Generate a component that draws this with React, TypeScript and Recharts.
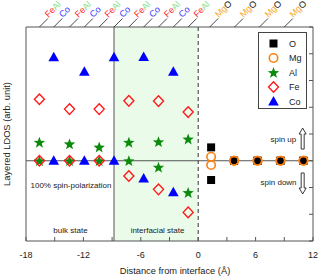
import React from 'react';
import {
  ScatterChart,
  Scatter,
  XAxis,
  YAxis,
  ReferenceLine,
  ReferenceArea,
  ReferenceDot,
  Legend,
} from 'recharts';

// ---- data ----
const feAlX = [-16.6, -13.45, -10.35, -7.25, -4.15, -1.05];
const coX = [-15.1, -11.9, -8.8, -5.7, -2.6];
const mgoX = [1.35, 3.75, 6.2, 8.6, 11.0];

const oUp = [0.5, 0, 0, 0, 0];
const oDown = [-0.72, 0, 0, 0, 0];
const mgUp = [0.15, 0, 0, 0, 0];
const mgDown = [-0.16, 0, 0, 0, 0];
const alUp = [0.69, 0.63, 0.51, 0.69, 0.71, 0.81];
const alDown = [0, 0, 0, 0, -0.24, -1.19];
const feUp = [2.3, 1.93, 1.93, 2.24, 2.23, 1.82];
const feDown = [0, 0, 0, -0.57, -1.07, -1.93];
const coUp = [3.87, 3.33, 3.87, 3.88, 3.33];
const coDown = [0, 0, 0, -0.66, -1.18];

const xTicks = [-18, -15, -12, -9, -6, -3, 0, 3, 6, 9, 12];
const xTickLabels = [-18, -12, -6, 0, 6, 12];
const yTicks = [-3, -2, -1, 0, 1, 2, 3, 4, 5];

const layerTickX = [-16.6, -15.1, -13.45, -11.9, -10.35, -8.8, -7.25, -5.7, -4.15, -2.6, -1.05, 1.2, 3.8, 6.4, 9.0];
const layerTickLabels = ['FeAl', 'Co', 'FeAl', 'Co', 'FeAl', 'Co', 'FeAl', 'Co', 'FeAl', 'Co', 'FeAl', 'MgO', 'MgO', 'MgO', 'MgO'];

const interfaceStart = -8.8;

const annotations = [
  { text: '100% spin-polarization', x: -13.3, y: -0.94 },
  { text: 'bulk state', x: -13.35, y: -2.59 },
  { text: 'interfacial state', x: -4.25, y: -2.59 },
  { text: 'spin up', x: 8.9, y: 0.8 },
  { text: 'spin down', x: 8.4, y: -0.83 },
];
const arrows = [
  { dir: 'up', x: 10.92, y: 0.83 },
  { dir: 'down', x: 10.92, y: -0.85 },
];

// ---- style ----
const FONT = '"Liberation Sans", Arial, Helvetica, sans-serif';
const AXIS = '#555';
const C_O = '#000000';
const C_MG = '#ff7f0e';
const C_AL = '#0b8a0b';
const C_FE = '#ff1a1a';
const C_CO = '#0000ff';

const L_FE = '#ff2a2a';
const L_AL = '#7ee07e';
const L_CO = '#3c3cff';
const L_MG = '#f5a623';

const toPts = (xs: number[], up: number[], down: number[]) => [
  ...xs.map((x, i) => ({ x, y: up[i] })),
  ...xs.map((x, i) => ({ x, y: down[i] })),
];

const SquareShape = (p: any) => (
  <rect x={p.cx - 4} y={p.cy - 4} width={8} height={8} fill={C_O} />
);
const RingShape = (p: any) => (
  <circle cx={p.cx} cy={p.cy} r={4.2} fill="none" stroke={C_MG} strokeWidth={1.6} />
);
const StarShape = (p: any) => {
  const pts: string[] = [];
  for (let k = 0; k < 10; k++) {
    const r = k % 2 === 0 ? 6 : 2.5;
    const a = -Math.PI / 2 + (k * Math.PI) / 5;
    pts.push(`${p.cx + r * Math.cos(a)},${p.cy + 0.5 + r * Math.sin(a)}`);
  }
  return <polygon points={pts.join(' ')} fill={C_AL} />;
};
const DiamondShape = (p: any) => (
  <path
    d={`M${p.cx},${p.cy - 5.3}L${p.cx + 5},${p.cy}L${p.cx},${p.cy + 5.3}L${p.cx - 5},${p.cy}Z`}
    fill="none"
    stroke={C_FE}
    strokeWidth={1.4}
  />
);
const TriShape = (p: any) => (
  <path d={`M${p.cx},${p.cy - 5.5}L${p.cx + 5.3},${p.cy + 4}L${p.cx - 5.3},${p.cy + 4}Z`} fill={C_CO} />
);

const species = [
  { name: 'O', data: toPts(mgoX, oUp, oDown), shape: SquareShape, color: C_O },
  { name: 'Mg', data: toPts(mgoX, mgUp, mgDown), shape: RingShape, color: C_MG },
  { name: 'Al', data: toPts(feAlX, alUp, alDown), shape: StarShape, color: C_AL },
  { name: 'Fe', data: toPts(feAlX, feUp, feDown), shape: DiamondShape, color: C_FE },
  { name: 'Co', data: toPts(coX, coUp, coDown), shape: TriShape, color: C_CO },
];

const BottomTick = (props: any) => {
  const { x, y, payload } = props;
  const showLabel = xTickLabels.includes(payload.value);
  return (
    <g>
      <line x1={x} y1={y} x2={x} y2={y - 4} stroke={AXIS} strokeWidth={1} />
      {showLabel && (
        <text x={x} y={y + 16.5} textAnchor="middle" fontSize={9} fontFamily={FONT} fill="#222">
          {String(payload.value)}
        </text>
      )}
    </g>
  );
};

const RightTick = (props: any) => {
  const { x, y } = props;
  return <line x1={x} y1={y} x2={x - 4} y2={y} stroke={AXIS} strokeWidth={1} />;
};

const labelParts = (lab: string) => {
  if (lab === 'FeAl')
    return [
      { t: 'Fe', c: L_FE },
      { t: 'Al', c: L_AL },
    ];
  if (lab === 'Co') return [{ t: 'Co', c: L_CO }];
  return [
    { t: 'Mg', c: L_MG },
    { t: 'O', c: '#111' },
  ];
};

const TopTick = (props: any) => {
  const { x, y, index, payload } = props;
  let idx = index;
  if (idx == null || layerTickLabels[idx] == null) {
    idx = layerTickX.findIndex((v) => Math.abs(v - payload.value) < 1e-6);
  }
  const lab = layerTickLabels[idx] ?? '';
  const ex = x + 8.5;
  const ey = y - 8.5;
  const tx = ex + 0.5;
  const ty = ey - 0.5;
  return (
    <g>
      <line x1={x} y1={y} x2={ex} y2={ey} stroke="#333" strokeWidth={0.9} />
      <text
        x={tx}
        y={ty}
        fontSize={9}
        fontFamily={FONT}
        transform={`rotate(-45, ${tx}, ${ty})`}
        textAnchor="start"
      >
        {labelParts(lab).map((p, i) => (
          <tspan key={i} fill={p.c}>
            {p.t}
          </tspan>
        ))}
      </text>
    </g>
  );
};

const LegendBox = () => (
  <div
    style={{
      width: 49,
      height: 77,
      boxSizing: 'border-box',
      border: '1px solid #444',
      background: '#fff',
    }}
  >
    <svg width={47} height={75} style={{ display: 'block' }}>
      {species.map((s, i) => {
        const cy = 10.5 + i * 14.5;
        const Shape = s.shape;
        return (
          <g key={s.name}>
            <Shape cx={14.5} cy={cy} />
            <text x={30} y={cy + 3.3} fontSize={9} fontFamily={FONT} fill="#222">
              {s.name}
            </text>
          </g>
        );
      })}
    </svg>
  </div>
);

const Arrow = (dir: string) => (p: any) => {
  const { cx, cy } = p;
  const h = 10.5;
  const hw = 3.5;
  const sw = 1.5;
  const hh = 6;
  let d: string;
  if (dir === 'up') {
    d = `M${cx},${cy - h}L${cx + hw},${cy - h + hh}L${cx + sw},${cy - h + hh}L${cx + sw},${cy + h}L${cx - sw},${cy + h}L${cx - sw},${cy - h + hh}L${cx - hw},${cy - h + hh}Z`;
  } else {
    d = `M${cx},${cy + h}L${cx + hw},${cy + h - hh}L${cx + sw},${cy + h - hh}L${cx + sw},${cy - h}L${cx - sw},${cy - h}L${cx - sw},${cy + h - hh}L${cx - hw},${cy + h - hh}Z`;
  }
  return <path d={d} fill="#fff" stroke="#222" strokeWidth={0.9} />;
};

export default function App() {
  return (
    <div style={{ position: 'absolute', left: 0, top: 0, width: 332, height: 278, background: '#fff' }}>
      <ScatterChart width={332} height={278} margin={{ top: 26, right: 0, bottom: 0, left: 0 }}>
        <XAxis
          xAxisId="b"
          type="number"
          dataKey="x"
          domain={[-18, 12]}
          ticks={xTicks}
          interval={0}
          allowDataOverflow
          height={37}
          tickSize={0}
          tickMargin={0}
          tickLine={false}
          tick={<BottomTick />}
          axisLine={{ stroke: AXIS, strokeWidth: 1 }}
          label={{
            content: (p: any) => {
              const vb = p.viewBox || { x: 26, y: 241, width: 287 };
              return (
                <text
                  x={vb.x + vb.width / 2 + 5.5}
                  y={vb.y + 33}
                  textAnchor="middle"
                  fontSize={9.3}
                  fontFamily={FONT}
                  fill="#222"
                >
                  Distance from interface (Å)
                </text>
              );
            },
          }}
        />
        <XAxis
          xAxisId="t"
          orientation="top"
          type="number"
          dataKey="x"
          domain={[-18, 12]}
          ticks={layerTickX}
          interval={0}
          allowDataOverflow
          height={1}
          tickSize={0}
          tickMargin={0}
          tickLine={false}
          tick={(p: any) => <TopTick {...p} />}
          axisLine={{ stroke: AXIS, strokeWidth: 1 }}
        />
        <YAxis
          yAxisId="l"
          type="number"
          dataKey="y"
          domain={[-3, 5]}
          ticks={yTicks}
          allowDataOverflow
          width={26}
          tick={false}
          tickLine={false}
          axisLine={{ stroke: AXIS, strokeWidth: 1 }}
          label={{
            content: (p: any) => {
              const vb = p.viewBox || { x: 0, y: 27, width: 26, height: 214 };
              const cx = vb.x + 10;
              const cy = vb.y + vb.height / 2;
              return (
                <text
                  x={cx}
                  y={cy}
                  textAnchor="middle"
                  fontSize={9.3}
                  fontFamily={FONT}
                  fill="#222"
                  transform={`rotate(-90, ${cx}, ${cy})`}
                >
                  Layered LDOS (arb. unit)
                </text>
              );
            },
          }}
        />
        <YAxis
          yAxisId="r"
          orientation="right"
          type="number"
          domain={[-3, 5]}
          ticks={yTicks}
          interval={0}
          allowDataOverflow
          width={19}
          tickSize={0}
          tickMargin={0}
          tickLine={false}
          tick={<RightTick />}
          axisLine={{ stroke: AXIS, strokeWidth: 1 }}
        />

        <ReferenceArea
          xAxisId="b"
          yAxisId="l"
          x1={interfaceStart}
          x2={0}
          fill="#eafbea"
          fillOpacity={1}
          stroke="none"
          ifOverflow="hidden"
        />
        <ReferenceLine xAxisId="b" yAxisId="l" x={interfaceStart} stroke={AXIS} strokeWidth={1} />
        <ReferenceLine xAxisId="b" yAxisId="l" x={0} stroke="#333" strokeWidth={1} strokeDasharray="4 3" />
        <ReferenceLine xAxisId="b" yAxisId="l" y={0} stroke={AXIS} strokeWidth={1} />

        {annotations.map((a) => (
          <ReferenceDot
            key={a.text}
            xAxisId="b"
            yAxisId="l"
            x={a.x}
            y={a.y}
            r={0}
            shape={(p: any) => (
              <text
                x={p.cx}
                y={p.cy}
                textAnchor="middle"
                dominantBaseline="central"
                fontSize={8}
                fontFamily={FONT}
                fill="#222"
              >
                {a.text}
              </text>
            )}
          />
        ))}
        {arrows.map((a) => (
          <ReferenceDot key={a.dir} xAxisId="b" yAxisId="l" x={a.x} y={a.y} r={0} shape={Arrow(a.dir)} />
        ))}

        {species.map((s) => (
          <Scatter
            key={s.name}
            name={s.name}
            data={s.data}
            xAxisId="b"
            yAxisId="l"
            fill={s.color}
            shape={s.shape}
            isAnimationActive={false}
          />
        ))}

        <Legend
          layout="vertical"
          align="center"
          verticalAlign="middle"
          wrapperStyle={{ left: 258, top: 32, width: 49, height: 77 }}
          content={() => <LegendBox />}
        />
      </ScatterChart>
    </div>
  );
}
